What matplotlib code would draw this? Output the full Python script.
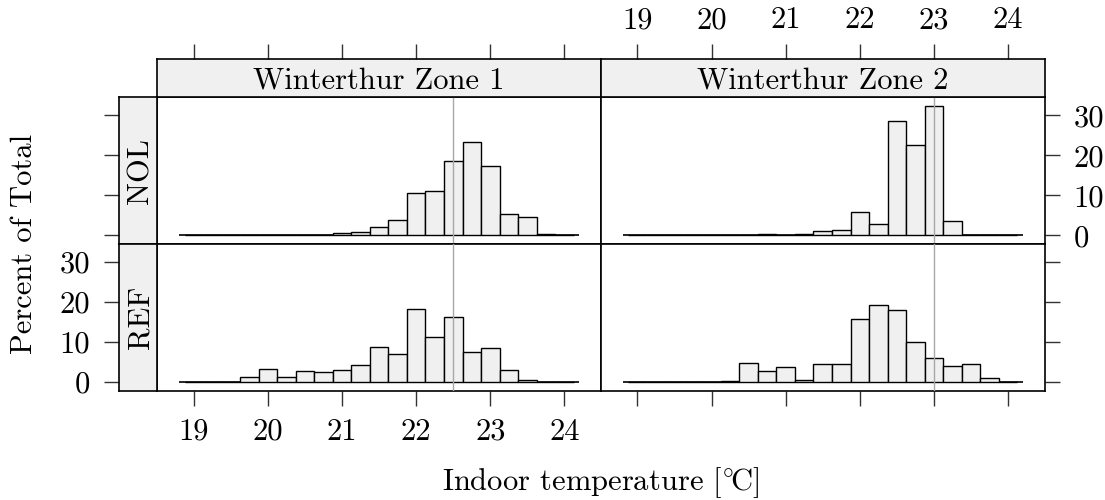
import matplotlib
matplotlib.use("Agg")
import matplotlib.pyplot as plt
import numpy as np

# ---------------- data ----------------
zones = ["Winterthur Zone 1", "Winterthur Zone 2"]
scenarios = ["NOL", "REF"]
bin_centers = [19.0, 19.25, 19.5, 19.75, 20.0, 20.25, 20.5, 20.75, 21.0, 21.25, 21.5,
               21.75, 22.0, 22.25, 22.5, 22.75, 23.0, 23.25, 23.5, 23.75, 24.0]
bin_width = 0.25
nol_zone1 = [0, 0, 0, 0, 0, 0, 0, 0.1, 0.67, 0.9, 2.1, 3.9, 10.6, 11.0, 18.6, 23.3, 17.3, 5.3, 4.6, 0.25, 0.1]
nol_zone2 = [0, 0, 0, 0, 0, 0, 0, 0.25, 0.1, 0.4, 1.1, 1.4, 5.8, 2.8, 28.7, 22.5, 32.25, 3.5, 0.15, 0.05, 0]
ref_zone1 = [0, 0, 0, 1.17, 3.27, 1.17, 2.85, 2.6, 3.0, 4.2, 8.8, 7.0, 18.4, 11.2, 16.3, 7.5, 8.5, 2.9, 0.5, 0, 0]
ref_zone2 = [0, 0, 0, 0, 0, 0.33, 4.86, 2.7, 3.86, 0.5, 4.5, 4.4, 15.8, 19.3, 18.1, 10.0, 6.1, 3.9, 4.4, 0.9, 0]
setpoints = [22.5, 23.0]
x_ticks = [19, 20, 21, 22, 23, 24]
y_ticks = [0, 10, 20, 30]
x_label = r"Indoor temperature $[^{\circ}\!\mathrm{C}]$"
y_label = "Percent of Total"

values = {("NOL", 0): nol_zone1, ("NOL", 1): nol_zone2,
          ("REF", 0): ref_zone1, ("REF", 1): ref_zone2}

# ---------------- style ----------------
plt.rcParams["font.family"] = ["cmr10", "DejaVu Serif"]
plt.rcParams["mathtext.fontset"] = "cm"
plt.rcParams["axes.unicode_minus"] = False

W, H = 1105, 500
fig = plt.figure(figsize=(W / 100, H / 100), dpi=100)

def fr(x0, y0, x1, y1):
    return [x0 / W, 1 - y1 / H, (x1 - x0) / W, (y1 - y0) / H]

col_x = [(157.3, 601.0), (601.0, 1044.5)]
row_y = [(97.3, 244.3), (244.3, 391.0)]
strip_top = (59.0, 97.3)
strip_left = (119.0, 157.3)

XLIM = (18.5075, 24.4925)
YLIM = (-2.25, 34.5)
FILL = "#F0F0F0"
TICKC = "#333333"
TL = 10.8  # tick length in points
FS_TICK = 22
FS_STRIP = 22
FS_LAB = 22

edges_lo = [c - bin_width / 2 for c in bin_centers]

for r, scen in enumerate(scenarios):
    for c in range(2):
        ax = fig.add_axes(fr(col_x[c][0], row_y[r][0], col_x[c][1], row_y[r][1]))
        v = values[(scen, c)]
        ax.hlines(0, edges_lo[0] - 0.075, edges_lo[-1] + bin_width + 0.075,
                  color="black", lw=1.2, zorder=2)
        ax.bar(edges_lo, v, width=bin_width, align="edge", color=FILL,
               edgecolor="black", linewidth=1.0, zorder=3)
        ax.axvline(setpoints[c], color="#A8A8A8", lw=1.0, zorder=4)
        ax.set_xlim(*XLIM)
        ax.set_ylim(*YLIM)
        for s in ax.spines.values():
            s.set_linewidth(1.2)
            s.set_color("black")
        ax.tick_params(axis="both", which="both", length=0, labelleft=False,
                       labelbottom=False)
        ax.set_xticks([])
        ax.set_yticks([])
        if c == 1:
            axr = ax.secondary_yaxis("right")
            axr.set_yticks(y_ticks)
            axr.tick_params(length=TL, width=1.0, color=TICKC, pad=10,
                            labelsize=FS_TICK, labelright=(r == 0))
            axr.spines["right"].set_visible(False)
        if r == 1:
            axb = ax.secondary_xaxis("bottom")
            axb.set_xticks(x_ticks)
            axb.tick_params(length=TL, width=1.0, color=TICKC, pad=9,
                            labelsize=FS_TICK, labelbottom=(c == 0))
            axb.spines["bottom"].set_visible(False)

# top strips
for c in range(2):
    axs = fig.add_axes(fr(col_x[c][0], strip_top[0], col_x[c][1], strip_top[1]))
    axs.set_facecolor(FILL)
    axs.set_xlim(*XLIM)
    axs.set_ylim(0, 1)
    axs.set_yticks([])
    axs.set_xticks(x_ticks)
    axs.xaxis.tick_top()
    axs.tick_params(axis="x", length=TL, width=1.0, color=TICKC, pad=7,
                    labelsize=FS_TICK, labeltop=(c == 1), labelbottom=False)
    for s in axs.spines.values():
        s.set_linewidth(1.2)
    axs.text(0.5, 0.42, zones[c], transform=axs.transAxes, ha="center",
             va="center", fontsize=FS_STRIP)

# left strips
for r, scen in enumerate(scenarios):
    axs = fig.add_axes(fr(strip_left[0], row_y[r][0], strip_left[1], row_y[r][1]))
    axs.set_facecolor(FILL)
    axs.set_ylim(*YLIM)
    axs.set_xlim(0, 1)
    axs.set_xticks([])
    axs.set_yticks(y_ticks)
    axs.tick_params(axis="y", length=TL, width=1.0, color=TICKC, pad=10,
                    labelsize=FS_TICK, labelleft=(r == 1))
    for s in axs.spines.values():
        s.set_linewidth(1.2)
    axs.text(0.58, 0.5, scen, transform=axs.transAxes, ha="center",
             va="center", rotation=90, fontsize=FS_STRIP)

fig.text(600.5 / W, 1 - 490 / H, x_label, ha="center", va="baseline", fontsize=FS_LAB)
fig.text(24 / W, 1 - 244 / H, y_label, ha="center", va="center", rotation=90,
         fontsize=FS_LAB)

fig.savefig("out.png", dpi=100)
